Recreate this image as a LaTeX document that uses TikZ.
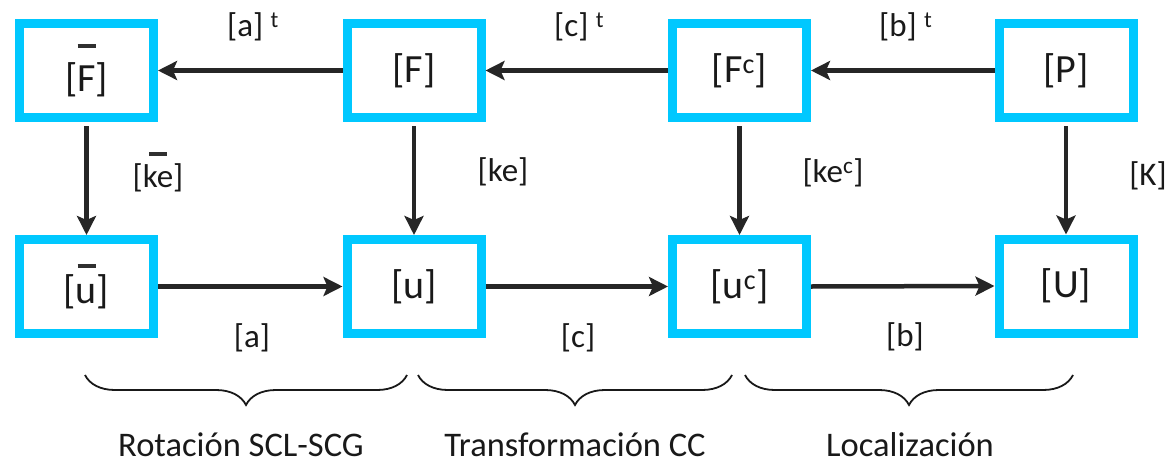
\documentclass[tikz,border=0pt]{standalone}
\usepackage{fontspec}
\setmainfont{Carlito}
\usetikzlibrary{arrows.meta,decorations.pathreplacing}

\definecolor{boxcyan}{HTML}{00C8FF}
\definecolor{arrowgray}{HTML}{262626}
\definecolor{inkgray}{HTML}{303030}

% short bar placed above a symbol: #1 = height of the bar above the baseline
\newcommand{\barover}[2]{%
  \begingroup\setbox0\hbox{#2}%
  \rlap{\hbox to \wd0{\hss\raisebox{#1}{\color{inkgray}\rule{18pt}{4pt}}\hss}}%
  \box0\endgroup}

\tikzset{
  matbox/.style={draw=boxcyan, line width=9pt, rectangle, fill=white,
    minimum width=134pt, minimum height=94pt, inner sep=0pt,
    font=\fontsize{40}{48}\selectfont, text=black!90},
  lbl/.style={inner sep=0pt, font=\fontsize{33}{40}\selectfont, text=black!90},
  grp/.style={inner sep=0pt, text depth=0pt,
    font=\fontsize{34.5}{40}\selectfont, text=black!90},
  arr/.style={draw=arrowgray, line width=4.5pt,
    -{Stealth[length=19pt, width=19pt, inset=4pt]}},
  brc/.style={draw=black!90, line width=1.8pt,
    decorate, decoration={brace, amplitude=30pt, aspect=0.5}}
}

\begin{document}
\begin{tikzpicture}[x=1pt, y=-1pt]
\useasboundingbox (0,0) rectangle (1167,463);

% matrices, top row
\node[matbox] (Fb) at (86.5,70.5) {[\barover{43pt}{F}]};
\node[matbox] (F)  at (414,70.5)  {[F]};
\node[matbox] (Fc) at (739.5,70.5) {[F\textsuperscript{c}]};
\node[matbox] (P)  at (1066,70.5) {[P]};

% matrices, bottom row
\node[matbox] (ub) at (86.5,286.5) {[\barover{36pt}{u}]};
\node[matbox] (u)  at (414,286.5)  {[u]};
\node[matbox] (uc) at (739.5,286.5) {[u\textsuperscript{c}]};
\node[matbox] (U)  at (1066,286)  {[U]};

% transposed transformations
\draw[arr] (F.west)  -- (Fb.east);
\draw[arr] (Fc.west) -- (F.east);
\draw[arr] (P.west)  -- (Fc.east);

% stiffness relations
\draw[arr, shorten <=4pt] (Fb.south) -- (ub.north);
\draw[arr, shorten <=4pt] (F.south)  -- (u.north);
\draw[arr, shorten <=4pt] (Fc.south) -- (uc.north);
\draw[arr, shorten <=4pt] (P.south)  -- (U.north);

% displacement transformations
\draw[arr] (ub.east) -- (u.west);
\draw[arr] (u.east)  -- (uc.west);
\draw[arr] (uc.east) -- (U.west);

% arrow labels
\node[lbl, anchor=west] (at) at (227,27) {[a] \textsuperscript{t}};
\node[lbl, anchor=west] (ct) at (554,27) {[c] \textsuperscript{t}};
\node[lbl, anchor=west] (bt) at (879,27) {[b] \textsuperscript{t}};

\node[lbl] (keb) at (158,172) {[\barover{32pt}{ke}]};
\node[lbl] (ke)  at (503,172) {[ke]};
\node[lbl] (kec) at (833,173) {[ke\textsuperscript{c}]};
\node[lbl] (K)   at (1148,176) {[K]};

\node[lbl] (a) at (252,338) {[a]};
\node[lbl] (c) at (578,338) {[c]};
\node[lbl] (b) at (905,337) {[b]};

% grouping braces
\coordinate (g1r) at (407,375); \coordinate (g1l) at (85,375);
\coordinate (g2r) at (732,375); \coordinate (g2l) at (418,375);
\coordinate (g3r) at (1073,375); \coordinate (g3l) at (745,375);
\draw[brc] (g1r) -- (g1l);
\draw[brc] (g2r) -- (g2l);
\draw[brc] (g3r) -- (g3l);

\node[grp, anchor=base] (rot) at (241,456) {Rotación SCL-SCG};
\node[grp, anchor=base] (tra) at (575,456) {Transformación CC};
\node[grp, anchor=base] (loc) at (910,456) {Localización};
\end{tikzpicture}
\end{document}
